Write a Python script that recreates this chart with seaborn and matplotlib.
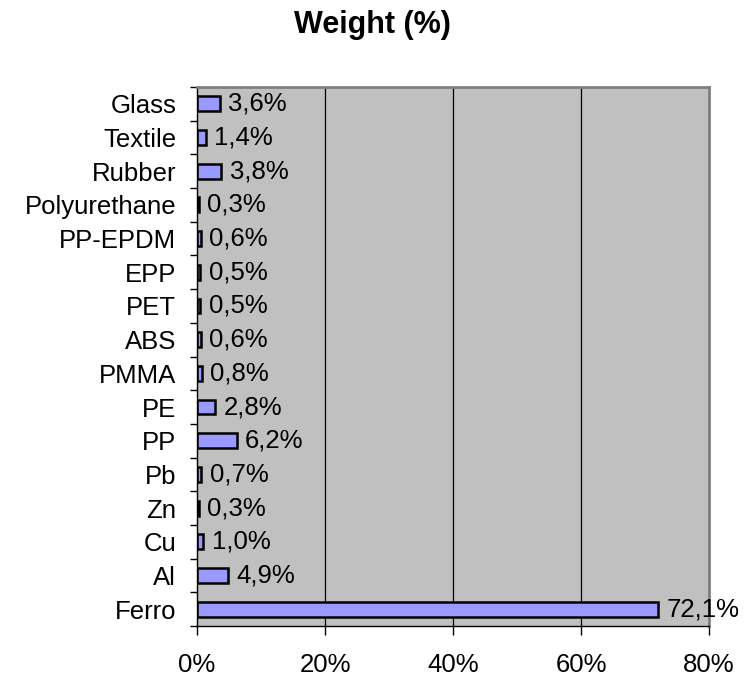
import numpy as np
import pandas as pd
import matplotlib
matplotlib.use("Agg")
import matplotlib.pyplot as plt
import seaborn as sns
from matplotlib.ticker import FixedLocator

materials = ["Glass", "Textile", "Rubber", "Polyurethane", "PP-EPDM", "EPP", "PET",
             "ABS", "PMMA", "PE", "PP", "Pb", "Zn", "Cu", "Al", "Ferro"]
weights = [3.6, 1.4, 3.8, 0.3, 0.6, 0.5, 0.5, 0.6, 0.8, 2.8, 6.2, 0.7, 0.3, 1.0, 4.9, 72.1]
x_ticks = [0, 20, 40, 60, 80]
x_tick_labels = ["0%", "20%", "40%", "60%", "80%"]

df = pd.DataFrame({"material": materials, "weight": weights})

sns.set_theme(style="white")
plt.rcParams["font.family"] = ["Liberation Sans", "DejaVu Sans"]
plt.rcParams["text.color"] = "black"

FS = 18.5

fig = plt.figure(figsize=(7.46, 6.81), dpi=100)
ax = fig.add_axes([197 / 746, 1 - 626 / 681, (709 - 197) / 746, (626 - 87) / 681])
ax.set_facecolor("#C0C0C0")

sns.barplot(data=df, x="weight", y="material", order=materials, orient="h",
            color="#9999FF", edgecolor="black", linewidth=1.8, width=0.44,
            saturation=1, ax=ax)

ax.set_xlim(0, 80)
ax.set_ylim(15.5, -0.5)
ax.set_xticks(x_ticks)
ax.set_xticklabels(x_tick_labels, fontsize=FS)
ax.set_xlabel("")
ax.set_ylabel("")

# vertical gridlines
for xv in x_ticks[1:-1]:
    ax.axvline(xv, color="black", lw=0.9, zorder=0.5)

# category labels with tick marks at category boundaries
ax.tick_params(axis="y", which="major", length=0, pad=15, labelsize=FS, labelcolor="black")
ax.yaxis.set_minor_locator(FixedLocator(np.arange(-0.5, 16, 1)))
ax.tick_params(axis="y", which="minor", length=5, width=1, color="black", direction="out", left=True)
ax.tick_params(axis="x", which="major", length=6.5, width=1, color="black", direction="out",
               bottom=True, pad=13, labelcolor="black")

for side in ["left", "bottom"]:
    ax.spines[side].set_color("black")
    ax.spines[side].set_linewidth(1.0)
for side in ["top", "right"]:
    ax.spines[side].set_color("#808080")
    ax.spines[side].set_linewidth(2.0)

for i, v in enumerate(weights):
    ax.annotate(f"{v:.1f}%".replace(".", ","), xy=(v, i), xytext=(6, 0),
                textcoords="offset points", va="center", ha="left",
                fontsize=FS, color="black", annotation_clip=False)

fig.text(372.5 / 746, 1 - 25 / 681, "Weight (%)", ha="center", va="center",
         fontsize=22, fontweight="bold", color="black")

fig.savefig("out.png", dpi=100)
